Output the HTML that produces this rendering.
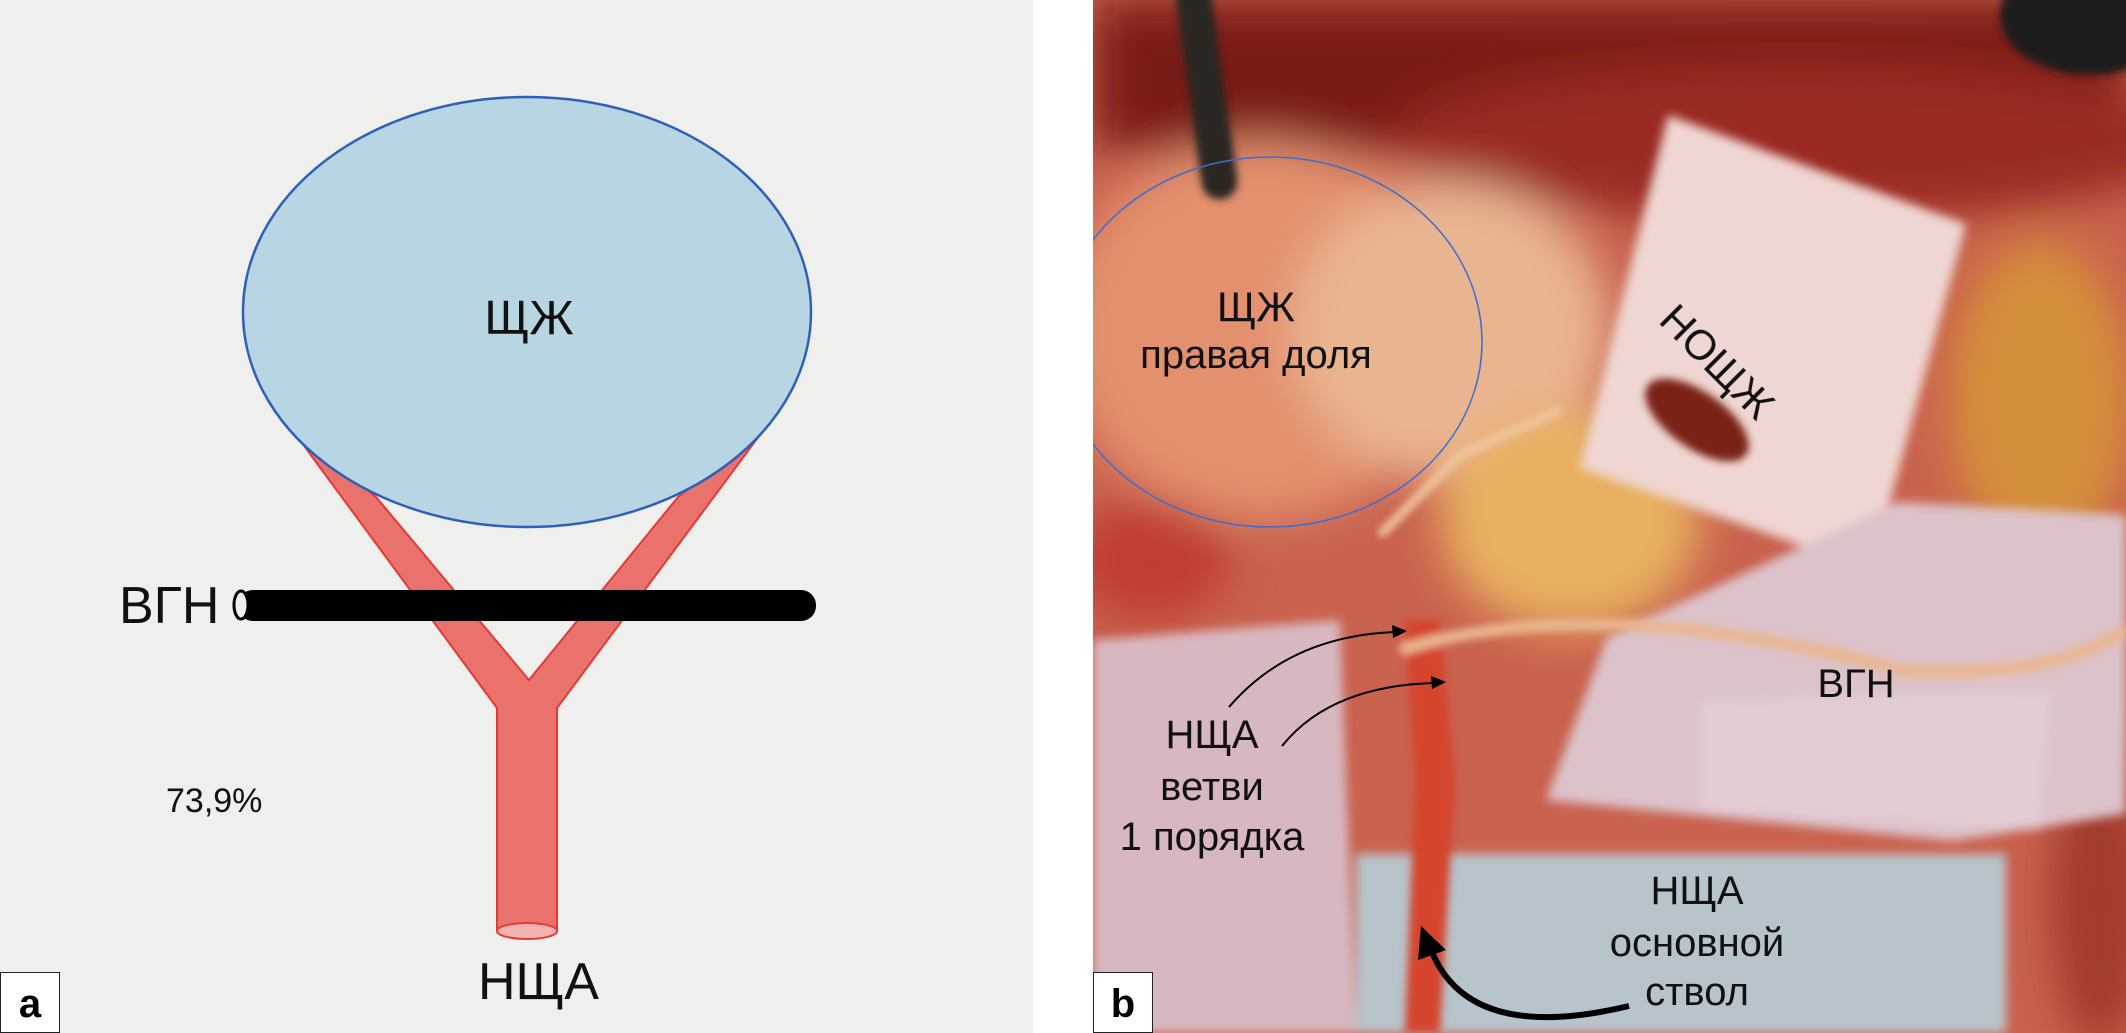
<!DOCTYPE html>
<html><head><meta charset="utf-8"><style>
html,body{margin:0;padding:0;width:2126px;height:1033px;overflow:hidden;background:#fff}
svg{display:block}
text{font-family:"Liberation Sans","DejaVu Sans",sans-serif}
</style></head><body>
<svg width="2126" height="1033" viewBox="0 0 2126 1033" xmlns="http://www.w3.org/2000/svg">
<defs>
<filter id="b1" x="-30%" y="-30%" width="160%" height="160%"><feGaussianBlur stdDeviation="22"/></filter>
<filter id="b3" x="-10%" y="-10%" width="120%" height="120%"><feGaussianBlur stdDeviation="5"/></filter>
<filter id="b2" x="-30%" y="-30%" width="160%" height="160%"><feGaussianBlur stdDeviation="4"/></filter>
<clipPath id="pc"><rect x="1093" y="0" width="1033" height="1033"/></clipPath>
</defs>
<!-- panel a -->
<rect x="0" y="0" width="1033" height="1033" fill="#efefed"/>
<path d="M288,424 L376,497 L529,680 L678,497 L768,424 L557,708 L557,931 L497,931 L497,708 Z" fill="#e9736c" stroke="#e33a36" stroke-width="2" stroke-linejoin="round"/>
<ellipse cx="527" cy="931" rx="30" ry="8" fill="#f2b3ae" stroke="#e33a36" stroke-width="2"/>
<ellipse cx="527" cy="312" rx="284" ry="215" fill="#b8d5e4" stroke="#2f5fb8" stroke-width="2.5"/>
<text x="529" y="334" font-size="48" text-anchor="middle" fill="#111">ЩЖ</text>
<rect x="238" y="590" width="578" height="31" rx="15" fill="#000"/>
<ellipse cx="241" cy="605" rx="7" ry="14" fill="#efefed" stroke="#000" stroke-width="3"/>
<text x="119" y="623" font-size="52" fill="#111">ВГН</text>
<text x="166" y="812" font-size="34" fill="#111">73,9%</text>
<text x="478" y="999" font-size="52" fill="#111">НЩА</text>
<rect x="0.5" y="972.5" width="59" height="60" fill="#fff" stroke="#222" stroke-width="1"/>
<text x="30" y="1017" font-size="40" font-weight="bold" text-anchor="middle" fill="#000">a</text>
<!-- panel b photo -->
<g clip-path="url(#pc)">
<rect x="1093" y="0" width="1033" height="1033" fill="#c9624e"/>
<g filter="url(#b1)">
<rect x="1093" y="0" width="1033" height="150" fill="#7a1c18"/>
<ellipse cx="1800" cy="140" rx="400" ry="80" fill="#9a2a22"/>
<ellipse cx="1260" cy="330" rx="200" ry="190" fill="#e3906e"/>
<ellipse cx="1450" cy="330" rx="160" ry="150" fill="#e9b490"/>
<ellipse cx="1570" cy="520" rx="130" ry="110" fill="#e8b060"/>
<ellipse cx="2040" cy="400" rx="90" ry="160" fill="#d48f3a"/>
<ellipse cx="1150" cy="560" rx="80" ry="60" fill="#c03c30"/>
<ellipse cx="2100" cy="900" rx="50" ry="150" fill="#a23a2a"/>
</g>
<g filter="url(#b3)">
<polygon points="1668,115 1966,224 1871,570 1580,468" fill="#efd6d2"/>
<polygon points="1898,502 2126,515 2126,814 1953,841 1546,800 1607,637" fill="#dcc3ca"/>
<polygon points="1093,640 1340,620 1356,1033 1093,1033" fill="#d8b8c0"/>
<rect x="1356" y="854" width="650" height="179" fill="#b7c4cb"/>
<polygon points="1700,700 2050,690 2040,830 1700,810" fill="#e3ccd3"/>
</g>
<g filter="url(#b2)">
<path d="M1405,620 L1440,620 L1455,780 L1440,1033 L1405,1033 L1415,780 Z" fill="#d5452f"/>
<path d="M1400,650 Q1600,590 1900,670 Q2050,680 2126,630" stroke="#eab690" stroke-width="12" fill="none"/>
<path d="M1380,535 L1460,455 L1560,410" stroke="#f0c6a0" stroke-width="9" fill="none"/>
<ellipse cx="1697" cy="420" rx="60" ry="28" fill="#7a2417" transform="rotate(35 1697 420)"/>
<rect x="1190" y="-20" width="36" height="220" rx="18" fill="#2a2624" transform="rotate(-8 1210 100)"/>
<ellipse cx="2090" cy="15" rx="90" ry="60" fill="#1f1c1b"/>
</g>
</g>
<ellipse cx="1270" cy="342" rx="212" ry="185" fill="none" stroke="#3c6fd0" stroke-width="1.5" clip-path="url(#pc)"/>
<text x="1256" y="321" font-size="42" text-anchor="middle" fill="#111">ЩЖ</text>
<text x="1256" y="368" font-size="40" text-anchor="middle" fill="#111">правая доля</text>
<text x="1717" y="376" font-size="42" text-anchor="middle" fill="#111" transform="rotate(45 1717 362)">НОЩЖ</text>
<text x="1856" y="697" font-size="40" text-anchor="middle" fill="#111">ВГН</text>
<text x="1212" y="748" font-size="40" text-anchor="middle" fill="#111">НЩА</text>
<text x="1212" y="800" font-size="40" text-anchor="middle" fill="#111">ветви</text>
<text x="1212" y="850" font-size="40" text-anchor="middle" fill="#111">1 порядка</text>
<text x="1697" y="904" font-size="40" text-anchor="middle" fill="#111">НЩА</text>
<text x="1697" y="956" font-size="40" text-anchor="middle" fill="#111">основной</text>
<text x="1697" y="1005" font-size="40" text-anchor="middle" fill="#111">ствол</text>
<path d="M1229,707 Q1290,636 1395,632" stroke="#000" stroke-width="2" fill="none"/>
<path d="M1407,631 L1392,625 L1393,638 Z" fill="#000"/>
<path d="M1282,746 Q1330,686 1434,683" stroke="#000" stroke-width="2" fill="none"/>
<path d="M1446,682 L1431,676 L1432,689 Z" fill="#000"/>
<path d="M1629,1006 Q1470,1044 1432,952" stroke="#000" stroke-width="6" fill="none"/>
<path d="M1421,926 L1418,960 L1446,950 Z" fill="#000"/>
<rect x="1093.5" y="972.5" width="59" height="60" fill="#fff" stroke="#222" stroke-width="1"/>
<text x="1123" y="1017" font-size="40" font-weight="bold" text-anchor="middle" fill="#000">b</text>
</svg>
</body></html>
